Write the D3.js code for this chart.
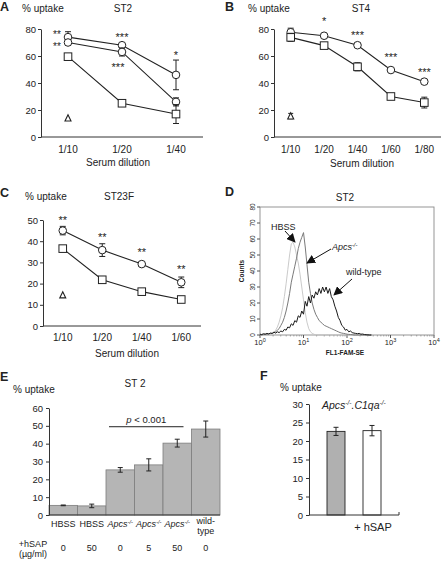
<!DOCTYPE html>
<html><head><meta charset="utf-8">
<script src="https://cdn.jsdelivr.net/npm/d3@7/dist/d3.min.js"></script>
<style>
body{margin:0;background:#fff}
svg{display:block}
text{font-family:"Liberation Sans",Arial,Helvetica,sans-serif;fill:#222}
</style>
</head><body>
<svg id="chart" width="445" height="561"></svg>
<script>
// ---------------- DATA ----------------
// Panel A (ST2)
const aCats = ["1/10", "1/20", "1/40"];
const aCircle1 = [74, 68, 46];
const aCircle1Err = [4, 1.5, 11];
const aCircle2 = [70, 63, 26];
const aCircle2Err = [2, 3, 3];
const aSquare = [59.5, 25, 17];
const aSquareErr = [1.5, 1.5, 7];
const aTriangle = 14;
const aTicks = [0, 20, 40, 60, 80];
const aStars = [
  {cat: "1/10", text: "**", v: 77.4, left: true, size: 10},
  {cat: "1/10", text: "**", v: 68.9, left: true, size: 10},
  {cat: "1/20", text: "***", v: 75.6},
  {cat: "1/20", text: "***", v: 53.3, dx: -4},
  {cat: "1/40", text: "*", v: 62.2}
];
// Panel B (ST4)
const bCats = ["1/10", "1/20", "1/40", "1/60", "1/80"];
const bCircle = [77.6, 75, 68, 49.6, 41];
const bCircleErr = [3, 1, 1.5, 1, 1];
const bSquare = [73.8, 67.7, 52, 30, 25.5];
const bSquareErr = [3, 1.5, 3, 1.5, 4];
const bTriangle = 15.5;
const bTriangleErr = 2;
const bTicks = [0, 20, 40, 60, 80];
const bStars = [
  {cat: "1/20", text: "*", v: 87.4},
  {cat: "1/40", text: "***", v: 77},
  {cat: "1/60", text: "***", v: 60.7},
  {cat: "1/80", text: "***", v: 49.6}
];
// Panel C (ST23F)
const cCats = ["1/10", "1/20", "1/40", "1/60"];
const cCircle = [45, 35.8, 29.2, 20.6];
const cCircleErr = [2, 3, 1, 2.5];
const cSquare = [36.5, 21.8, 16.2, 12.5];
const cSquareErr = [1, 1, 0.8, 0.8];
const cTriangle = 14.6;
const cTicks = [0, 10, 20, 30, 40, 50];
const cStars = [
  {cat: "1/10", text: "**", v: 50.9},
  {cat: "1/20", text: "**", v: 42.9},
  {cat: "1/40", text: "**", v: 35.8},
  {cat: "1/60", text: "**", v: 27.8}
];
// Panel D (flow cytometry histogram, log10 fluorescence bins)
const dBins = d3.range(65).map(i => i * 0.04);
const dHBSS = [0,0,0,0,0,0,0.5,1,1.5,3,5,8,12,17,24,32,41,50,57,58,55,50,45,38,30,22,14,8,4,2,1,0.5,
  0,0,0,0,0,0,0,0,0,0,0,0,0,0,0,0,0,0,0,0,0,0,0,0,0,0,0,0,0,0,0,0,0];
const dApcs = [0,0,0.3,0.5,0.5,0.8,1,1,1.5,2,3,4,6,8,11,15,20,26,33,38,43,48,54,58,61,64,55,44,33,26,20,16,
  13,11,9,8,7,6,5.5,5,4.5,4,3.5,3,2.5,2,1.5,1.2,1,0.8,0.5,0.4,0.3,0.2,0,0,0,0,0,0,0,0,0,0,0];
const dWild = [0.5,0.3,0.8,0.5,1,0.6,1.2,1,1.8,1.2,2,1.5,2.5,2,3.5,3,5,4.5,7,6,9,8,12,11,15,13,21,18,24,20,25,23,
  27,25,29,26,30,27,30,26,29,24,22,18,15,11,9,6,5,3,3.5,2,2.5,1.5,1.2,1,0.8,1,0.5,0.6,0.3,0.2,0.1,0,0];
const dYTicks = [0, 10, 20, 30, 40, 50, 60, 70, 80];
const dXTicks = [0, 1, 2, 3, 4];
// Panel E (ST 2 bars)
const eLabels = ["HBSS", "HBSS", "Apcs", "Apcs", "Apcs", "wild-type"];
const eDose = ["0", "50", "0", "5", "50", "0"];
const eValues = [5.4, 5.1, 25.3, 28.1, 40.3, 48.2];
const eErr = [0.2, 1, 1.3, 3.4, 2.2, 4.5];
const eTicks = [0, 10, 20, 30, 40, 50, 60];
const ePLine = {from: 2, to: 4, v: 49.5, text: "< 0.001"};
// Panel F
const fLabels = ["-", "+ hSAP"];
const fValues = [22.6, 22.8];
const fErr = [1.1, 1.4];
const fTicks = [0, 5, 10, 15, 20, 25, 30];

// ---------------- DRAW ----------------
const svg = d3.select("#chart");

function txt(g, x, y, s, opts = {}) {
  const t = g.append("text").attr("x", x).attr("y", y).text(s)
    .attr("font-size", opts.size || 10)
    .attr("text-anchor", opts.anchor || "start");
  if (opts.bold) t.attr("font-weight", "bold");
  if (opts.italic) t.attr("font-style", "italic");
  return t;
}
function apcsText(g, x, y, size, anchor, extra) {
  const t = g.append("text").attr("x", x).attr("y", y)
    .attr("font-size", size).attr("font-style", "italic")
    .attr("text-anchor", anchor || "start");
  t.append("tspan").text("Apcs");
  t.append("tspan").attr("font-size", size * 0.62).attr("dy", -size * 0.38).text("-/-");
  if (extra) {
    t.append("tspan").attr("dy", size * 0.38).text(extra);
    t.append("tspan").attr("font-size", size * 0.62).attr("dy", -size * 0.38).text("-/-");
  }
  return t;
}

function trianglePath(cx, cy, s) {
  const h = s * 0.95;
  return `M${cx},${cy - h / 2 - 0.5}L${cx + s / 2},${cy + h / 2}L${cx - s / 2},${cy + h / 2}Z`;
}

function linePanel(cfg) {
  const g = svg.append("g");
  const x = d3.scalePoint().domain(cfg.cats).range([cfg.x0, cfg.x1]).padding(0.5);
  const y = d3.scaleLinear().domain([0, cfg.ymax]).range([cfg.y0, cfg.y1]);
  const ya = g.append("g").attr("transform", `translate(${cfg.x0},0)`)
    .call(d3.axisLeft(y).tickValues(cfg.ticks).tickSize(3).tickSizeOuter(0).tickPadding(2));
  ya.select(".domain").attr("stroke", "#333");
  ya.selectAll(".tick line").attr("stroke", "#333");
  ya.selectAll("text").attr("font-size", 9.5).attr("font-family", "Liberation Sans, Arial").attr("fill", "#333");
  g.append("line").attr("x1", cfg.x0).attr("x2", cfg.x1).attr("y1", y(0)).attr("y2", y(0)).attr("stroke", "#333");
  g.selectAll(".xl").data(cfg.cats).enter().append("text")
    .attr("x", d => x(d)).attr("y", y(0) + cfg.labOff).attr("text-anchor", "middle")
    .attr("font-size", 10).text(d => d);
  txt(g, cfg.xTitleX, y(0) + cfg.titleOff, "Serum dilution", {anchor: "middle"});
  cfg.series.forEach(s => {
    const pts = cfg.cats.map((c, i) => ({c, v: s.values[i], e: s.err[i]}));
    g.append("path").datum(pts).attr("fill", "none").attr("stroke", "#222").attr("stroke-width", 1.1)
      .attr("d", d3.line().x(d => x(d.c)).y(d => y(d.v)));
    pts.forEach(p => {
      if (p.e > 0.6) {
        const xx = x(p.c);
        g.append("line").attr("x1", xx).attr("x2", xx).attr("y1", y(p.v - p.e)).attr("y2", y(p.v + p.e)).attr("stroke", "#222");
        [p.v - p.e, p.v + p.e].forEach(v => g.append("line").attr("x1", xx - 3).attr("x2", xx + 3).attr("y1", y(v)).attr("y2", y(v)).attr("stroke", "#222"));
      }
    });
    pts.forEach(p => {
      const xx = x(p.c), yy = y(p.v);
      if (s.shape === "circle") {
        g.append("circle").attr("cx", xx).attr("cy", yy).attr("r", 3.8).attr("fill", "#fff").attr("stroke", "#222").attr("stroke-width", 1);
      } else {
        g.append("rect").attr("x", xx - 3.8).attr("y", yy - 3.8).attr("width", 7.6).attr("height", 7.6).attr("fill", "#fff").attr("stroke", "#222").attr("stroke-width", 1);
      }
    });
  });
  const tx = x(cfg.cats[0]), ty = y(cfg.tri);
  if (cfg.triErr) {
    g.append("line").attr("x1", tx).attr("x2", tx).attr("y1", y(cfg.tri - cfg.triErr)).attr("y2", y(cfg.tri + cfg.triErr)).attr("stroke", "#222");
    [cfg.tri - cfg.triErr, cfg.tri + cfg.triErr].forEach(v => g.append("line").attr("x1", tx - 2.5).attr("x2", tx + 2.5).attr("y1", y(v)).attr("y2", y(v)).attr("stroke", "#222"));
  }
  g.append("path").attr("d", trianglePath(tx, ty, 6)).attr("fill", "#fff").attr("stroke", "#222").attr("stroke-width", 1.1);
  cfg.stars.forEach(s => {
    const fs = s.size || 11;
    g.append("text").attr("x", x(s.cat) + (s.left ? -11 : (s.dx || 0))).attr("y", y(s.v) + fs * 0.58)
      .attr("text-anchor", "middle").attr("font-size", fs).text(s.text);
  });
  return {g, x, y};
}

// Panel A
txt(svg, 0, 11, "A", {size: 12.5, bold: true});
txt(svg, 22, 12, "% uptake");
txt(svg, 123, 12, "ST2", {anchor: "middle"});
linePanel({cats: aCats, x0: 41, x1: 203, y0: 137, y1: 29, ymax: 80, ticks: aTicks,
  labOff: 16, titleOff: 29, xTitleX: 118,
  series: [
    {shape: "circle", values: aCircle1, err: aCircle1Err},
    {shape: "circle", values: aCircle2, err: aCircle2Err},
    {shape: "square", values: aSquare, err: aSquareErr}
  ], tri: aTriangle, stars: aStars});

// Panel B
txt(svg, 225, 11, "B", {size: 12.5, bold: true});
txt(svg, 248, 12, "% uptake");
txt(svg, 361, 12, "ST4", {anchor: "middle"});
linePanel({cats: bCats, x0: 274, x1: 441, y0: 137, y1: 29, ymax: 80, ticks: bTicks,
  labOff: 16, titleOff: 30, xTitleX: 362,
  series: [
    {shape: "circle", values: bCircle, err: bCircleErr},
    {shape: "square", values: bSquare, err: bSquareErr}
  ], tri: bTriangle, triErr: bTriangleErr, stars: bStars});

// Panel C
txt(svg, 0, 197, "C", {size: 12.5, bold: true});
txt(svg, 25, 200, "% uptake");
txt(svg, 119, 200, "ST23F", {anchor: "middle"});
linePanel({cats: cCats, x0: 43, x1: 201, y0: 326, y1: 220, ymax: 50, ticks: cTicks,
  labOff: 15, titleOff: 31, xTitleX: 127,
  series: [
    {shape: "circle", values: cCircle, err: cCircleErr},
    {shape: "square", values: cSquare, err: cSquareErr}
  ], tri: cTriangle, stars: cStars});

// Panel D
(function () {
  const g = svg.append("g");
  txt(g, 225, 196, "D", {size: 12.5, bold: true});
  txt(g, 345, 201, "ST2", {anchor: "middle"});
  const x = d3.scaleLinear().domain([0, 4]).range([260, 434]);
  const y = d3.scaleLinear().domain([0, 80]).range([335, 207]);
  g.append("rect").attr("x", 260).attr("y", 207).attr("width", 174).attr("height", 128)
    .attr("fill", "none").attr("stroke", "#8a8a8a").attr("stroke-width", 0.9);
  dYTicks.forEach(t => {
    g.append("line").attr("x1", 257).attr("x2", 260).attr("y1", y(t)).attr("y2", y(t)).attr("stroke", "#555");
    g.append("text").attr("transform", `translate(255,${y(t)}) rotate(-90)`).attr("text-anchor", "middle")
      .attr("font-size", 6.5).attr("fill", "#444").text(t);
  });
  dXTicks.forEach(t => {
    g.append("line").attr("x1", x(t)).attr("x2", x(t)).attr("y1", 335).attr("y2", 338).attr("stroke", "#555");
    const tt = g.append("text").attr("x", x(t)).attr("y", 345).attr("text-anchor", "middle")
      .attr("font-size", 7.5).attr("fill", "#333");
    tt.append("tspan").text("10");
    tt.append("tspan").attr("dy", -3.5).attr("font-size", 5.5).text(t);
  });
  for (let dec = 0; dec < 4; dec++) {
    for (let m = 2; m <= 9; m++) {
      const lv = dec + Math.log10(m);
      g.append("line").attr("x1", x(lv)).attr("x2", x(lv)).attr("y1", 335).attr("y2", 336.5).attr("stroke", "#777").attr("stroke-width", 0.6);
    }
  }
  g.append("text").attr("x", 345).attr("y", 355).attr("text-anchor", "middle").attr("font-size", 6.5)
    .attr("font-weight", "bold").attr("fill", "#333").text("FL1-FAM-SE");
  g.append("text").attr("transform", "translate(244,271) rotate(-90)").attr("text-anchor", "middle")
    .attr("font-size", 6.5).attr("font-weight", "bold").attr("fill", "#333").text("Counts");
  const line = d3.line().x((d, i) => x(dBins[i])).y(d => y(d));
  g.append("path").datum(dHBSS).attr("d", line).attr("fill", "none").attr("stroke", "#c4c4c4").attr("stroke-width", 0.9);
  g.append("path").datum(dApcs).attr("d", line).attr("fill", "none").attr("stroke", "#7a7a7a").attr("stroke-width", 1);
  g.append("path").datum(dWild).attr("d", line).attr("fill", "none").attr("stroke", "#1a1a1a").attr("stroke-width", 1);
  const defs = svg.append("defs");
  defs.append("marker").attr("id", "ah").attr("viewBox", "0 0 10 10").attr("refX", 9).attr("refY", 5)
    .attr("markerWidth", 9).attr("markerHeight", 9).attr("markerUnits", "userSpaceOnUse").attr("orient", "auto")
    .append("path").attr("d", "M0,0L10,5L0,10Z").attr("fill", "#111");
  txt(g, 271, 230, "HBSS", {size: 9});
  g.append("line").attr("x1", 285).attr("y1", 231).attr("x2", 295).attr("y2", 242).attr("stroke", "#111").attr("marker-end", "url(#ah)");
  apcsText(g, 332, 250, 9, "start");
  g.append("line").attr("x1", 331).attr("y1", 249).attr("x2", 307).attr("y2", 263).attr("stroke", "#111").attr("marker-end", "url(#ah)");
  txt(g, 346, 275, "wild-type", {size: 9});
  g.append("line").attr("x1", 352).attr("y1", 279).attr("x2", 334).attr("y2", 295).attr("stroke", "#111").attr("marker-end", "url(#ah)");
})();

// Panel E
(function () {
  const g = svg.append("g");
  txt(g, 0, 381, "E", {size: 12.5, bold: true});
  txt(g, 13, 393, "% uptake");
  txt(g, 135, 387, "ST 2", {anchor: "middle"});
  const x = d3.scaleBand().domain(d3.range(eValues.length)).range([49, 220]).padding(0);
  const y = d3.scaleLinear().domain([0, 60]).range([515, 408]);
  g.selectAll(".bar").data(eValues).enter().append("rect")
    .attr("x", (d, i) => x(i)).attr("y", d => y(d)).attr("width", x.bandwidth()).attr("height", d => y(0) - y(d))
    .attr("fill", "#b5b5b5").attr("stroke", "#7d7d7d").attr("stroke-width", 0.8);
  eValues.forEach((v, i) => {
    const cx = x(i) + x.bandwidth() / 2;
    g.append("line").attr("x1", cx).attr("x2", cx).attr("y1", y(v - eErr[i])).attr("y2", y(v + eErr[i])).attr("stroke", "#222");
    [v - eErr[i], v + eErr[i]].forEach(e => g.append("line").attr("x1", cx - 2.5).attr("x2", cx + 2.5).attr("y1", y(e)).attr("y2", y(e)).attr("stroke", "#222"));
  });
  const ya = g.append("g").attr("transform", "translate(49,0)")
    .call(d3.axisLeft(y).tickValues(eTicks).tickSize(3).tickSizeOuter(0).tickPadding(3));
  ya.select(".domain").attr("stroke", "#333");
  ya.selectAll(".tick line").attr("stroke", "#333");
  ya.selectAll("text").attr("font-size", 9.5).attr("font-family", "Liberation Sans, Arial").attr("fill", "#333");
  g.append("line").attr("x1", 49).attr("x2", 220).attr("y1", y(0)).attr("y2", y(0)).attr("stroke", "#333");
  eLabels.forEach((l, i) => {
    const cx = x(i) + x.bandwidth() / 2;
    if (l === "Apcs") apcsText(g, cx, 527, 9, "middle");
    else if (l === "wild-type") {
      txt(g, cx, 524, "wild-", {size: 9, anchor: "middle"});
      txt(g, cx, 534, "type", {size: 9, anchor: "middle"});
    } else txt(g, cx, 527, l, {size: 9, anchor: "middle"});
    txt(g, cx, 551, eDose[i], {size: 9, anchor: "middle"});
  });
  txt(g, 33, 547, "+hSAP", {size: 9, anchor: "middle"});
  txt(g, 33, 557, "(µg/ml)", {size: 9, anchor: "middle"});
  const lx1 = x(ePLine.from) + 3, lx2 = x(ePLine.to) + x.bandwidth() - 8;
  g.append("line").attr("x1", lx1).attr("x2", lx2).attr("y1", y(ePLine.v)).attr("y2", y(ePLine.v)).attr("stroke", "#222");
  const pt = g.append("text").attr("x", (lx1 + lx2) / 2).attr("y", y(ePLine.v) - 4).attr("text-anchor", "middle").attr("font-size", 9.5);
  pt.append("tspan").attr("font-style", "italic").text("p");
  pt.append("tspan").text(" " + ePLine.text);
})();

// Panel F
(function () {
  const g = svg.append("g");
  txt(g, 260, 380, "F", {size: 12.5, bold: true});
  txt(g, 280, 391, "% uptake");
  const x = d3.scaleBand().domain(fLabels).range([318, 390]).paddingInner(0.5).paddingOuter(0.25);
  const y = d3.scaleLinear().domain([0, 30]).range([515, 404]);
  g.selectAll(".bar").data(fValues).enter().append("rect")
    .attr("x", (d, i) => x(fLabels[i])).attr("y", d => y(d)).attr("width", x.bandwidth()).attr("height", d => y(0) - y(d))
    .attr("fill", (d, i) => i === 0 ? "#b0b0b0" : "#fff").attr("stroke", "#222").attr("stroke-width", 0.9);
  fValues.forEach((v, i) => {
    const cx = x(fLabels[i]) + x.bandwidth() / 2;
    g.append("line").attr("x1", cx).attr("x2", cx).attr("y1", y(v - fErr[i])).attr("y2", y(v + fErr[i])).attr("stroke", "#222");
    [v - fErr[i], v + fErr[i]].forEach(e => g.append("line").attr("x1", cx - 2.5).attr("x2", cx + 2.5).attr("y1", y(e)).attr("y2", y(e)).attr("stroke", "#222"));
  });
  const ya = g.append("g").attr("transform", "translate(309,0)")
    .call(d3.axisLeft(y).tickValues(fTicks).tickSize(3).tickSizeOuter(0).tickPadding(3));
  ya.select(".domain").attr("stroke", "#333");
  ya.selectAll(".tick line").attr("stroke", "#333");
  ya.selectAll("text").attr("font-size", 9.5).attr("font-family", "Liberation Sans, Arial").attr("fill", "#333");
  g.append("line").attr("x1", 309).attr("x2", 399).attr("y1", y(0)).attr("y2", y(0)).attr("stroke", "#333");
  g.append("line").attr("x1", 399).attr("x2", 399).attr("y1", y(0)).attr("y2", y(0) - 3).attr("stroke", "#333");
  apcsText(g, 322, 409, 10.5, "start", ".C1qa");
  txt(g, 373, 531, fLabels[1], {size: 11, anchor: "middle"});
})();
</script>
</body></html>
